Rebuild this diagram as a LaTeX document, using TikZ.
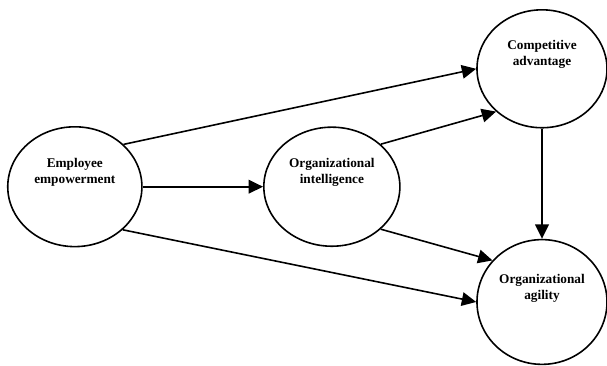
\documentclass[tikz,border=0pt]{standalone}
\usepackage{fontspec}
\setmainfont{Liberation Serif}
\usepackage{tikz}
\usetikzlibrary{arrows.meta,positioning,shapes.geometric}

\tikzset{
  factor/.style={draw,ellipse,line width=1.2pt,inner sep=0pt},
  factortext/.style={font=\bfseries\fontsize{10}{12}\selectfont,align=center},
  path/.style={line width=1.2pt,-{Triangle[length=3.8mm,width=3.6mm]}}
}

\begin{document}
\begin{tikzpicture}
\useasboundingbox (0,0) rectangle (16.06,9.68);
\node[factor,minimum width=3.55cm,minimum height=3.17cm,
  label={[factortext,yshift=0.37cm]center:Employee\\empowerment}] (emp) at (1.98,4.74) {};
\node[factor,minimum width=3.6cm,minimum height=3.15cm,
  label={[factortext,yshift=0.37cm]center:Organizational\\intelligence}] (intel) at (8.78,4.74) {};
\node[factor,minimum width=3.44cm,minimum height=3.12cm,
  label={[factortext,yshift=0.37cm]center:Competitive\\advantage}] (comp) at (14.34,7.86) {};
\node[factor,minimum width=3.44cm,minimum height=3.3cm,
  label={[factortext,yshift=0.37cm]center:Organizational\\agility}] (agil) at (14.34,1.69) {};
% paths
\draw[path] (emp.41) -- (comp.west);
\draw[path] (emp.east) -- (intel.west);
\draw[path] (emp.318) -- (agil.west);
\draw[path] (intel.41) -- (comp.223);
\draw[path] (intel.319) -- (agil.140);
\draw[path] (comp.south) -- (agil.north);
\end{tikzpicture}
\end{document}
